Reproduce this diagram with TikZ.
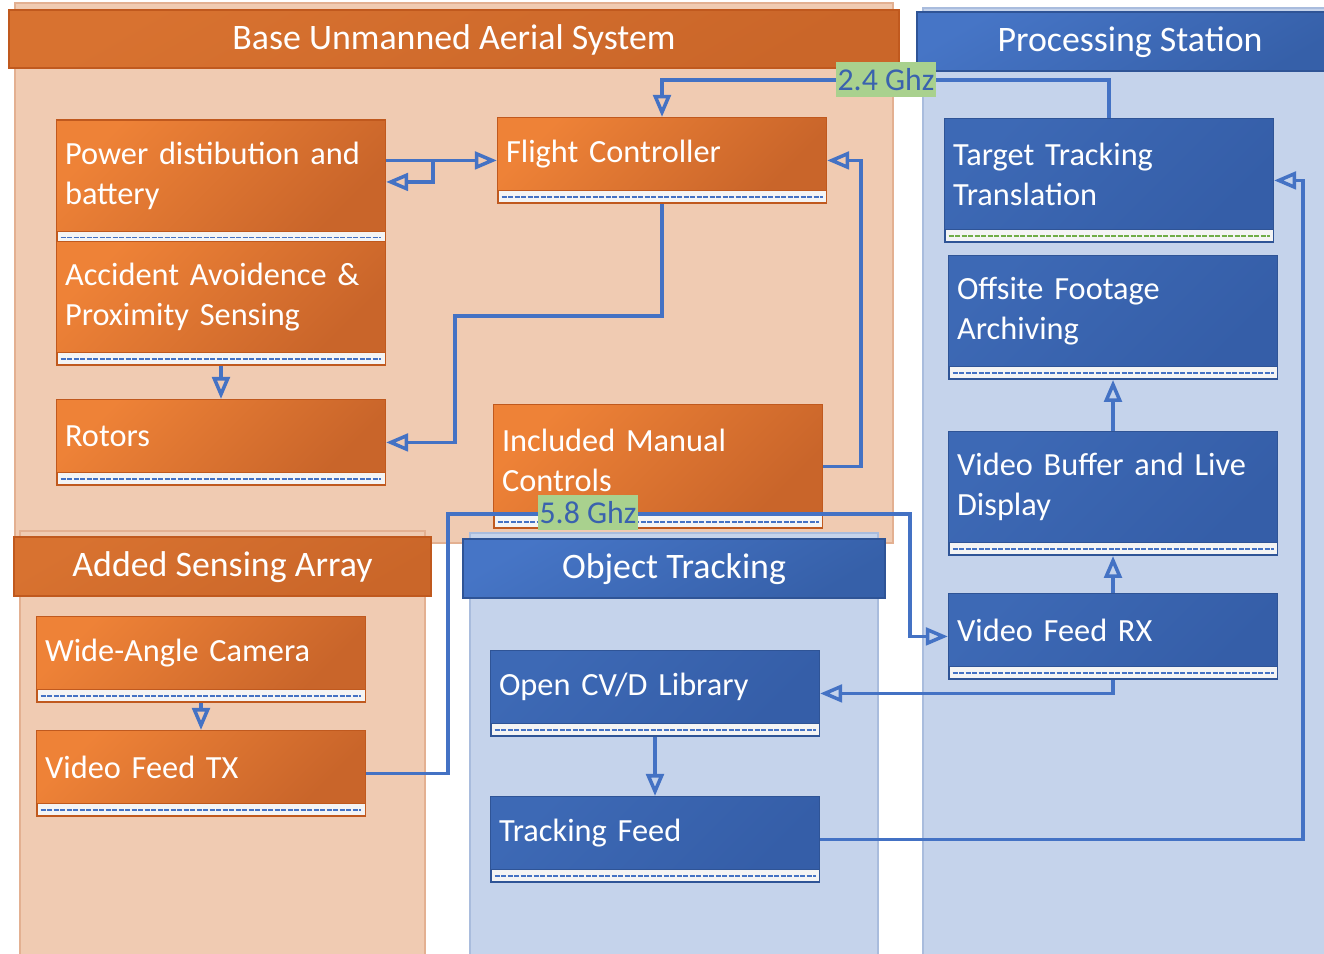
\documentclass[tikz,border=0pt]{standalone}
\usepackage{fontspec}
\setmainfont{Carlito}
\usetikzlibrary{arrows.meta,fit}
\definecolor{oL}{HTML}{EE8237}
\definecolor{oD}{HTML}{C9652A}
\definecolor{oHdrL}{HTML}{D87230}
\definecolor{oHdrD}{HTML}{CA6629}
\definecolor{oBorder}{HTML}{C0591E}
\definecolor{bBoxL}{HTML}{3D69B5}
\definecolor{bBoxD}{HTML}{355EA8}
\definecolor{bBorder}{HTML}{2F5496}
\definecolor{bHdrL}{HTML}{4675C6}
\definecolor{bHdrD}{HTML}{3660A9}
\definecolor{peach}{HTML}{F0CBB2}
\definecolor{peachB}{HTML}{E3B091}
\definecolor{lblue}{HTML}{C5D3EB}
\definecolor{lblueB}{HTML}{A9BCDD}
\definecolor{lineblue}{HTML}{4472C4}
\definecolor{lgreen}{HTML}{A9D18E}
\definecolor{lbltext}{HTML}{3A62AE}
\definecolor{stripfill}{HTML}{F4F4F4}
\definecolor{dgreen}{HTML}{70AD47}
\newcommand\upx{0.02cm}
\newcommand\mybfont{\fontsize{18.4pt}{22.7pt}\selectfont}
\newcommand\myhfont{\fontsize{20.4pt}{24pt}\selectfont}
\newcommand\mylfont{\fontsize{18.1pt}{20pt}\selectfont}
\tikzset{
  obg/.style={fill=peach, draw=peachB, line width=0.6pt, inner sep=0pt},
  bbg/.style={fill=lblue, draw=lblueB, line width=0.6pt, inner sep=0pt},
  hdr/.style={shade, shading=axis, shading angle=30, line width=0.6pt, text=white,
    font=\myhfont, inner sep=0pt, text height=13pt, text depth=1.2pt},
  ohdr/.style={hdr, top color=oHdrL, bottom color=oHdrD, shading angle=30, draw=oBorder},
  bhdr/.style={hdr, top color=bHdrL, bottom color=bHdrD, shading angle=30, draw=bBorder},
  boxtext/.style={text=white, font=\mybfont, text width=177.5pt, align=left,
    inner xsep=4.55pt, inner ysep=0pt, minimum width=328*\upx},
  omain/.style={boxtext, shade, shading=axis, top color=oL, bottom color=oD, shading angle=45},
  bmain/.style={boxtext, shade, shading=axis, top color=bBoxL, bottom color=bBoxD, shading angle=45},
  strip/.style n args={2}{fill=stripfill, draw=#1, line width=0.5pt, minimum width=328*\upx,
    minimum height=12*\upx, inner sep=0pt, anchor=north,
    path picture={\draw[#2, line width=0.9pt, dash pattern=on 3pt off 0.7pt]
      ([xshift=2pt]path picture bounding box.west) -- ([xshift=-2pt]path picture bounding box.east);}},
  frame/.style={draw=#1, line width=0.8pt, inner sep=0pt},
  cline/.style={draw=lineblue, line width=2pt},
  conn/.style={cline, -{Triangle[open, length=12.5pt, width=10pt]}},
  glabel/.style={fill=lgreen, text=lbltext, font=\mylfont, inner xsep=1pt, inner ysep=0pt,
    minimum height=35*\upx},
}
\newcommand\mkbox[6]{%
  \node[#2main, minimum height=#4*\upx] (#1) at (#3) {#6};
  \node[strip={#2Border}{#5}] (#1S) at (#1.south) {};
  \node[frame=#2Border, fit=(#1)(#1S)] (#1B) {};
}
\begin{document}
\begin{tikzpicture}[x=0.02cm, y=-0.02cm]
\useasboundingbox (0,0) rectangle (1324,953);
\clip (0,0) rectangle (1324,953);
% backgrounds
\node[obg, minimum width=878*\upx, minimum height=540*\upx] (uasBg) at (454,273) {};
\node[bbg, minimum width=417*\upx, minimum height=952*\upx] (psBg) at (1131.5,484) {};
\node[obg, minimum width=405*\upx, minimum height=429*\upx] (asBg) at (222.5,745.5) {};
\node[bbg, minimum width=408*\upx, minimum height=427*\upx] (otBg) at (674,746.5) {};
% headers
\node[ohdr, minimum width=890*\upx, minimum height=58*\upx] (uasH) at (454,39) {Base Unmanned Aerial System};
\node[bhdr, minimum width=426*\upx, minimum height=59*\upx] (psH) at (1130,41.5) {Processing Station};
\node[ohdr, minimum width=417*\upx, minimum height=59*\upx] (asH) at (222.5,566.5) {Added Sensing Array};
\node[bhdr, minimum width=422*\upx, minimum height=59*\upx] (otH) at (674,568.5) {Object Tracking};
% boxes
\mkbox{pw}{o}{221,175.5}{110}{lineblue}{Power distibution and\\battery}
\mkbox{ac}{o}{221,297}{110}{lineblue}{Accident Avoidence \&\\Proximity Sensing}
\mkbox{ro}{o}{221,436}{72}{lineblue}{Rotors}
\mkbox{fc}{o}{662,154}{72}{lineblue}{Flight Controller}
\mkbox{mc}{o}{658,460}{110}{lineblue}{Included Manual\\Controls}
\mkbox{wa}{o}{201,653}{72}{lineblue}{Wide-Angle Camera}
\mkbox{tx}{o}{201,767}{72}{lineblue}{Video Feed TX}
\mkbox{tt}{b}{1109,174}{110}{dgreen}{Target Tracking\\Translation}
\mkbox{of}{b}{1113,311}{110}{lineblue}{Offsite Footage\\Archiving}
\mkbox{vb}{b}{1113,487}{110}{lineblue}{Video Buffer and Live\\Display}
\mkbox{rx}{b}{1113,630}{72}{lineblue}{Video Feed RX}
\mkbox{cv}{b}{655,687}{72}{lineblue}{Open CV/D Library}
\mkbox{tf}{b}{655,833}{72}{lineblue}{Tracking Feed}
% connectors
\draw[conn] (pwB.east|-fcB.west) -- (fcB.west);
\coordinate (j1) at (433,160);
\draw[conn] (j1) |- (pwB.east);
\draw[conn] (ttB.north) -- ++(0,-38) -| (fcB.north);
\draw[conn] (fcB.south) |- (455,316) |- (roB.east);
\draw[conn] (mcB.east) -| (861,300) |- (fcB.east);
\draw[conn] (acB.south) -- (roB.north);
\draw[conn] (waB.south) -- (txB.north);
\draw[conn] (txB.east) -| (448,514) -- (910,514) |- (rxB.west);
\draw[conn] (rxB.south) |- (cvB.east);
\draw[conn] (rxB.north) -- (vbB.south);
\draw[conn] (vbB.north) -- (ofB.south);
\draw[conn] (cvB.south) -- (tfB.north);
\draw[conn] (tfB.east) -| (1303,500) |- (ttB.east);
% labels
\node[glabel] (l24) at (886,79.5) {2.4 Ghz};
\node[glabel] (l58) at (588,512.5) {5.8 Ghz};
\end{tikzpicture}
\end{document}
